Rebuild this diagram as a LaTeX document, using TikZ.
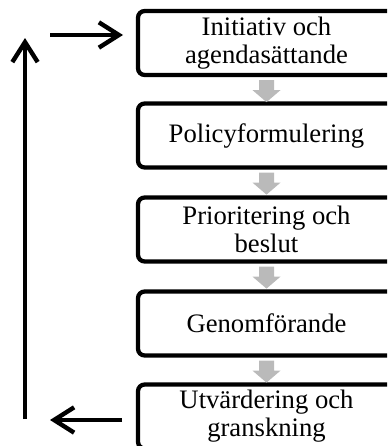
\documentclass[tikz,border=0pt]{standalone}
\usepackage{fontspec}
\setmainfont{Liberation Serif}
\usetikzlibrary{arrows.meta,calc}
\tikzset{
  stagebox/.style={draw=black, line width=3.2pt, rounded corners=5pt, fill=white,
    minimum width=192.75pt, minimum height=48pt, align=center, inner sep=0pt,
    font=\fontsize{20}{21}\selectfont},
  grayarrow/.style={fill=black!27, draw=none},
  cyclearrow/.style={line width=3.3pt, -{Straight Barb[length=15pt,width=19pt,line width=3.3pt]}},
}
\newcommand{\grayarr}[1]{%
  \fill[grayarrow] ($(#1)+(-7.5,3)$) -- ($(#1)+(7.5,3)$) -- ($(#1)+(7.5,13)$) -- ($(#1)+(14,13)$)
    -- ($(#1)+(0,25)$) -- ($(#1)+(-14,13)$) -- ($(#1)+(-7.5,13)$) -- cycle;}
\begin{document}
\begin{tikzpicture}[x=0.75pt,y=-0.75pt]
\useasboundingbox (0,0) rectangle (387,446);
\begin{scope}
\clip (0,0) rectangle (387,446);
\node[stagebox] (b1) at (266.5,43) {Initiativ och\\agendasättande};
\node[stagebox] (b2) at (266.5,135.5) {Policyformulering};
\node[stagebox] (b3) at (266.5,229.5) {Prioritering och\\beslut};
\node[stagebox] (b4) at (266.5,323.5) {Genomförande};
\node[stagebox] (b5) at (266.5,416.5) {Utvärdering och\\granskning};
\grayarr{b1.south}
\grayarr{b2.south}
\grayarr{b3.south}
\grayarr{b4.south}
\end{scope}
\coordinate (lb) at (25,419);
\coordinate (lt) at (25,38);
\coordinate (ts) at (50,35);
\coordinate (te) at (123,35);
\coordinate (bs) at (122,420);
\coordinate (be) at (50,420);
\draw[cyclearrow] (lb) -- (lt);
\draw[cyclearrow] (ts) -- (te);
\draw[cyclearrow] (bs) -- (be);
\end{tikzpicture}
\end{document}
